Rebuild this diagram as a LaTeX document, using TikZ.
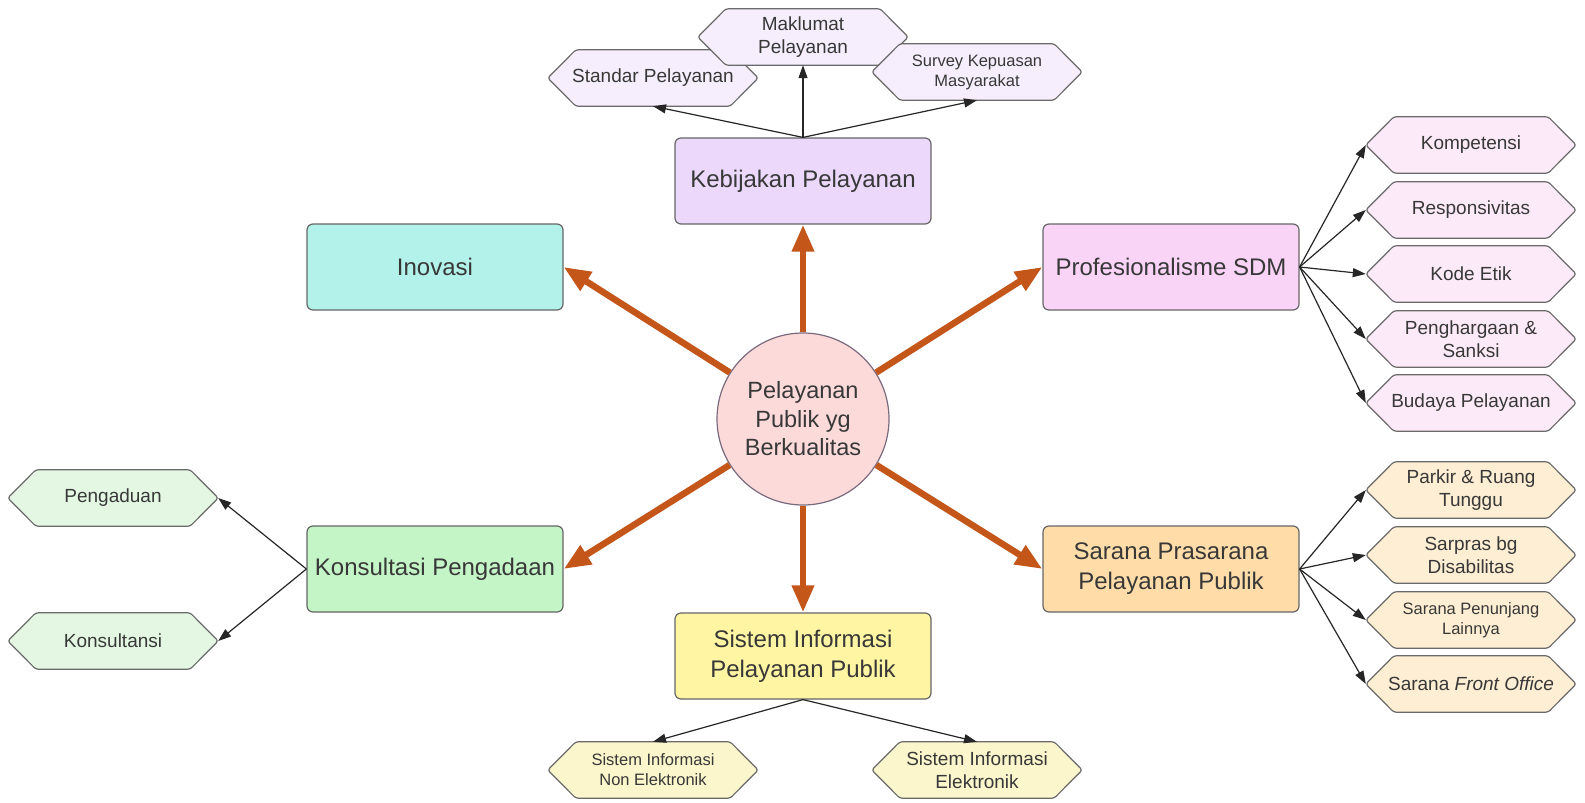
\documentclass[tikz,border=0pt]{standalone}
\usepackage{fontspec}
\setmainfont{Liberation Sans}
\usetikzlibrary{arrows.meta,calc}
\pgfdeclarelayer{back}
\pgfdeclarelayer{bg}
\pgfsetlayers{back,bg,main}
\definecolor{txt}{HTML}{383838}
\definecolor{boxline}{HTML}{666666}
\definecolor{hexborder}{HTML}{6A6A6A}
\definecolor{orng}{HTML}{C5561A}
\definecolor{circfill}{HTML}{FCDADA}
\definecolor{circline}{HTML}{7A6A7E}
\definecolor{kebfill}{HTML}{EBD8FA}
\definecolor{kebhex}{HTML}{F6EEFD}
\definecolor{inofill}{HTML}{B3F2EA}
\definecolor{proffill}{HTML}{FAD4F6}
\definecolor{profhex}{HTML}{FCEAF8}
\definecolor{konfill}{HTML}{C4F5C6}
\definecolor{konhex}{HTML}{E3F7E3}
\definecolor{sarfill}{HTML}{FFDCA8}
\definecolor{sarhex}{HTML}{FEEED3}
\definecolor{sisfill}{HTML}{FFF5A3}
\definecolor{sishex}{HTML}{FBF6CC}
\tikzset{
  box/.style={draw=boxline, line width=1.2pt, rounded corners=6pt,
    minimum width=256pt, minimum height=86pt, align=center,
    font=\fontsize{24}{30}\selectfont, text=txt, inner sep=2pt},
  hexn/.style={minimum width=210pt, minimum height=56pt, inner sep=0pt,
    align=center, font=\fontsize{19}{22.5}\selectfont, text=txt},
  smalltext/.style={font=\fontsize{16.5}{20}\selectfont},
  bigarrow/.style={-{Triangle[length=27pt,width=21pt]}, line width=6.5pt, draw=orng},
  thinarrow/.style={-{Triangle[length=13pt,width=9pt]}, line width=1.2pt, draw=black!85},
  hexline/.style={draw=hexborder, line width=1.2pt, line join=round, rounded corners=2.5pt}
}
\newcommand\hexa[5]{%
  \node[hexn,#4] (#1) at (#2) {#5};
  \begin{pgfonlayer}{bg}
  \path[hexline, fill=#3] (#1.west) -- ([xshift=28pt]#1.north west)
    -- ([xshift=-28pt]#1.north east) -- (#1.east)
    -- ([xshift=-28pt]#1.south east) -- ([xshift=28pt]#1.south west) -- cycle;
  \end{pgfonlayer}}
\begin{document}
\begin{tikzpicture}[x=1pt,y=-1pt]
\begin{pgfonlayer}{back}
\fill[white] (0,0) rectangle (1585,803);
\end{pgfonlayer}
\useasboundingbox (0,0) rectangle (1585,803);

% centre
\node[circle, draw=circline, line width=1.2pt, fill=circfill, minimum size=172pt,
  inner sep=0pt, align=center, text=txt, font=\fontsize{23.5}{28.5}\selectfont]
  (c) at (803,419) {Pelayanan\\Publik yg\\Berkualitas};

% main boxes
\node[box, fill=kebfill] (keb) at (803,181) {Kebijakan Pelayanan};
\node[box, fill=inofill] (ino) at (435,267) {Inovasi};
\node[box, fill=proffill] (prof) at (1171,267) {Profesionalisme SDM};
\node[box, fill=konfill] (kon) at (435,569) {Konsultasi Pengadaan};
\node[box, fill=sarfill] (sar) at (1171,569) {Sarana Prasarana\\Pelayanan Publik};
\node[box, fill=sisfill] (sis) at (803,656) {Sistem Informasi\\Pelayanan Publik};

% thick arrows
\draw[bigarrow] (c) -- (keb.south);
\draw[bigarrow] (c) -- (sis.north);
\draw[bigarrow] (c) -- (ino.east);
\draw[bigarrow] (c) -- (prof.west);
\draw[bigarrow] (c) -- (kon.east);
\draw[bigarrow] (c) -- (sar.west);

% Kebijakan children
\hexa{std}{653,78}{kebhex}{}{Standar Pelayanan}
\hexa{mak}{803,37}{kebhex}{}{Maklumat\\Pelayanan}
\hexa{svy}{977,72}{kebhex}{smalltext}{Survey Kepuasan\\Masyarakat}
\draw[thinarrow] (keb.north) -- (std.south);
\draw[thinarrow] (keb.north) -- (mak.south);
\draw[thinarrow] (keb.north) -- (svy.south);

% Profesionalisme children
\hexa{kom}{1471,145}{profhex}{}{Kompetensi}
\hexa{res}{1471,210}{profhex}{}{Responsivitas}
\hexa{kode}{1471,274}{profhex}{}{Kode Etik}
\hexa{phg}{1471,339}{profhex}{}{Penghargaan \&\\Sanksi}
\hexa{bud}{1471,403}{profhex}{}{Budaya Pelayanan}
\foreach \n in {kom,res,kode,phg,bud}
  \draw[thinarrow] (prof.east) -- (\n.west);

% Sarana children
\hexa{park}{1471,490}{sarhex}{}{Parkir \& Ruang\\Tunggu}
\hexa{sarp}{1471,555}{sarhex}{}{Sarpras bg\\Disabilitas}
\hexa{pen}{1471,620}{sarhex}{smalltext}{Sarana Penunjang\\Lainnya}
\hexa{fro}{1471,684}{sarhex}{}{Sarana \textit{Front Office}}
\foreach \n in {park,sarp,pen,fro}
  \draw[thinarrow] (sar.east) -- (\n.west);

% Konsultasi children
\hexa{peng}{113,498}{konhex}{}{Pengaduan}
\hexa{kons}{113,641}{konhex}{}{Konsultansi}
\draw[thinarrow] (kon.west) -- (peng.east);
\draw[thinarrow] (kon.west) -- (kons.east);

% Sistem children
\hexa{non}{653,770}{sishex}{smalltext}{Sistem Informasi\\Non Elektronik}
\hexa{ele}{977,770}{sishex}{}{Sistem Informasi\\Elektronik}
\draw[thinarrow] (sis.south) -- (non.north);
\draw[thinarrow] (sis.south) -- (ele.north);
\end{tikzpicture}
\end{document}
